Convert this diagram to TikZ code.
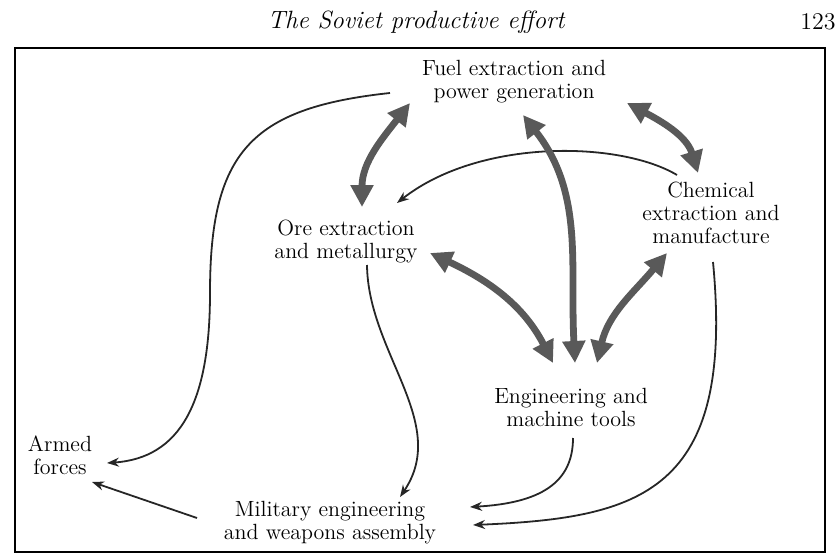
\documentclass[tikz,border=0pt]{standalone}
\usepackage{tikz}
\usetikzlibrary{arrows.meta,calc}
\newcommand{\bnode}[3]{\node [sector] (#1) at (#2) {#3}}

\tikzset{
  sector/.style={align=center, font=\fontsize{11}{11.5}\selectfont, inner sep=1pt},
  fat/.style={line width=3.4pt, draw=black!65,
    {Triangle[length=11pt,width=11pt]}-{Triangle[length=11pt,width=11pt]}},
  feed/.style={line width=0.9pt, draw=black!85, -{Stealth[length=6pt,width=4.5pt]}}
}

\begin{document}
\begin{tikzpicture}[x=0.5pt,y=0.5pt]
\useasboundingbox (0,0) rectangle (840,553);
\draw[line width=1pt] (15,1) rectangle (825,505);
\node[font=\fontsize{12.5}{14}\selectfont\itshape] (TITLE) at (416,531) {The Soviet productive effort};
\node[font=\fontsize{12}{14}\selectfont] (PAGE) at (818,531) {123};

\bnode{FUEL}{514,471}{Fuel extraction and\\power generation};
\bnode{ORE}{346,311}{Ore extraction\\and metallurgy};
\bnode{CHEM}{711,340}{Chemical\\extraction and\\manufacture};
\bnode{ENG}{571,146}{Engineering and\\machine tools};
\bnode{MIL}{330,30}{Military engineering\\and weapons assembly};
\bnode{ARMED}{60,98}{Armed\\forces};

% thin flows
\draw[feed] ($(FUEL)+(-124,-11)$) .. controls (250,445) and (210,400) .. (210,260)
  .. controls (210,150) and (180,95) .. ($(ARMED)+(47,-8)$);
\draw[feed] ($(CHEM)+(-34,38)$) .. controls (620,412) and (480,415) .. ($(ORE)+(51,39)$);
\draw[feed] ($(ORE)+(21,-23)$) .. controls (368,200) and (450,130) .. ($(MIL)+(70,26)$);
\draw[feed] ($(ENG)+(2,-31)$) .. controls (573,70) and (540,50) .. ($(MIL)+(140,16)$);
\draw[feed] ($(CHEM)+(2,-49)$) .. controls (735,60) and (640,35) .. ($(MIL)+(143,-2)$);
\draw[feed] ($(MIL)+(-133,5)$) -- ($(ARMED)+(32,-27)$);

% heavy two-way flows
\draw[fat] ($(FUEL)+(-104,-21)$) to[out=232,in=90] ($(ORE)+(16,35)$);
\draw[fat] ($(FUEL)+(113,-21)$) to[out=-28,in=107] ($(CHEM)+(-13,40)$);
\draw[fat] ($(FUEL)+(9,-33)$) to[out=-52,in=93] ($(ENG)+(4,44)$);
\draw[fat] ($(ORE)+(84,-11)$) to[out=-25,in=117] ($(ENG)+(-18,44)$);
\draw[fat] ($(CHEM)+(-44,-40)$) to[out=230,in=77] ($(ENG)+(26,44)$);

\end{tikzpicture}
\end{document}
